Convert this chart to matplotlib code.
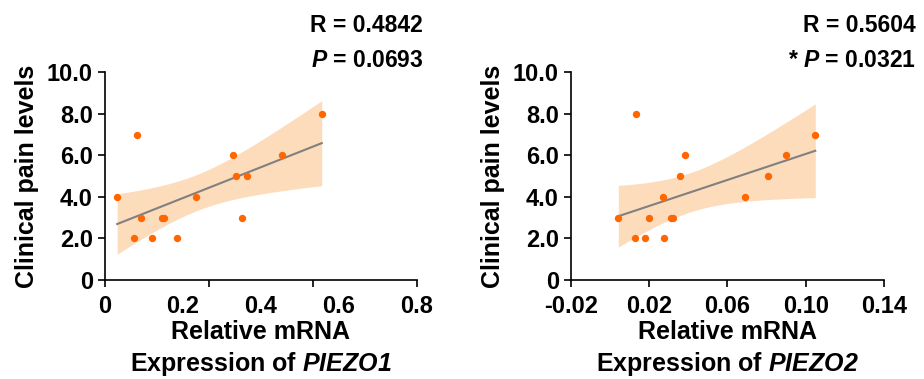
import matplotlib
matplotlib.use('Agg')
import matplotlib.pyplot as plt
import numpy as np

plt.rcParams['font.family'] = ['Liberation Sans', 'DejaVu Sans']
plt.rcParams['font.weight'] = 'bold'
plt.rcParams['mathtext.fontset'] = 'custom'
plt.rcParams['mathtext.it'] = 'Liberation Sans:italic:bold'
plt.rcParams['mathtext.rm'] = 'Liberation Sans:italic:bold'  # digits in gene names

# data
piezo1_x = [0.032, 0.074, 0.084, 0.094, 0.122, 0.148, 0.151, 0.184, 0.235,
            0.328, 0.337, 0.353, 0.365, 0.454, 0.556]
piezo1_pain = [4, 2, 7, 3, 2, 3, 3, 2, 4, 6, 5, 3, 5, 6, 8]
piezo2_x = [0.0043, 0.0127, 0.0134, 0.0180, 0.0198, 0.0270, 0.0277, 0.0311,
            0.0321, 0.0357, 0.0386, 0.0690, 0.0806, 0.0900, 0.1049]
piezo2_pain = [3, 2, 8, 2, 3, 4, 2, 3, 3, 5, 6, 4, 5, 6, 7]

y_ticks = [0, 2, 4, 6, 8, 10]
y_ticklabels = ['0', '2.0', '4.0', '6.0', '8.0', '10.0']
stats1 = ('R = 0.4842', '$P$ = 0.0693')
stats2 = ('R = 0.5604', '* $P$ = 0.0321')

T_CRIT = 2.160  # t(0.975, df=13)
FS = 17
DOT = '#ff6600'
BAND = '#fddcbc'


def fit_band(x, y):
    x = np.asarray(x, float)
    y = np.asarray(y, float)
    b, a = np.polyfit(x, y, 1)
    xs = np.linspace(x.min(), x.max(), 100)
    ys = a + b * xs
    n = len(x)
    s = np.sqrt(np.sum((y - (a + b * x)) ** 2) / (n - 2))
    se = s * np.sqrt(1 / n + (xs - x.mean()) ** 2 / np.sum((x - x.mean()) ** 2))
    return xs, ys, ys - T_CRIT * se, ys + T_CRIT * se


def draw(ax, x, y, xlim, tick_pos, label_pos, labels, gene):
    xs, ys, lo, hi = fit_band(x, y)
    ax.fill_between(xs, lo, hi, color=BAND, lw=0, zorder=1)
    ax.plot(xs, ys, color='#808080', lw=1.5, zorder=2)
    ax.scatter(x, y, s=28, color=DOT, zorder=3, linewidths=0)
    ax.set_xlim(*xlim)
    ax.set_ylim(0, 10)
    ax.spines['top'].set_visible(False)
    ax.spines['right'].set_visible(False)
    for sp in ('left', 'bottom'):
        ax.spines[sp].set_linewidth(1.2)
    ax.set_yticks(y_ticks, labels=y_ticklabels)
    # tick marks and tick labels do not share positions in the original
    ax.xaxis.remove_overlapping_locs = False
    ax.set_xticks(tick_pos, labels=[''] * len(tick_pos))
    ax.set_xticks(label_pos, labels=labels, minor=True)
    ax.tick_params(which='major', length=5, width=1.2, labelsize=FS)
    ax.tick_params(axis='x', which='minor', length=0, labelsize=FS, pad=11)
    ax.set_ylabel('Clinical pain levels', fontsize=18, fontweight='bold', labelpad=6)
    ax.set_xlabel('Relative mRNA\nExpression of $%s$' % gene, fontsize=18,
                  fontweight='bold', linespacing=1.3, labelpad=1)


fig = plt.figure(figsize=(9.24, 3.79), dpi=100)
ax1 = fig.add_axes([0.1133, 0.2612, 0.338, 0.548])
ax2 = fig.add_axes([0.6177, 0.2612, 0.339, 0.548])

draw(ax1, piezo1_x, piezo1_pain, (0, 0.8), np.linspace(0, 0.8, 4),
     [0, 0.2, 0.4, 0.6, 0.8], ['0', '0.2', '0.4', '0.6', '0.8'], 'PIEZO1')
draw(ax2, piezo2_x, piezo2_pain, (-0.02, 0.14), [-0.02, 0.02, 0.06, 0.10, 0.14],
     [-0.02, 0.02, 0.06, 0.10, 0.14], ['-0.02', '0.02', '0.06', '0.10', '0.14'], 'PIEZO2')

for xr, (r_txt, p_txt) in ((0.458, stats1), (0.991, stats2)):
    fig.text(xr, 0.9156, r_txt, ha='right', va='baseline', fontsize=16.5, fontweight='bold')
    fig.text(xr, 0.822, p_txt, ha='right', va='baseline', fontsize=16.5, fontweight='bold')

fig.savefig('out.png', dpi=100)
